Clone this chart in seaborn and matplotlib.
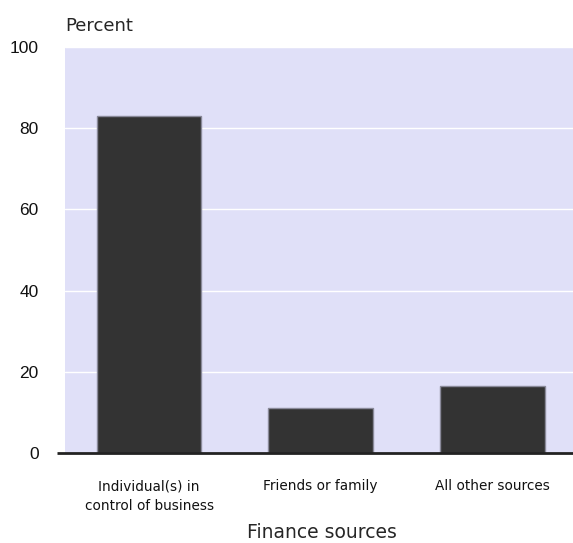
import pandas as pd
import seaborn as sns
import matplotlib.pyplot as plt

# finance sources and share of businesses (percent)
sources = ["Individual(s) in\ncontrol of business", "Friends or family", "All other sources"]
percent = [83.0, 11.0, 16.6]
yticks = [0, 20, 40, 60, 80, 100]

df = pd.DataFrame({"Source": sources, "Percent": percent})

sns.set_style("white")
plt.rcParams["font.family"] = ["Liberation Sans", "DejaVu Sans"]

fig = plt.figure(figsize=(5.73, 5.43), dpi=100)
ax = fig.add_axes([0.1134, 0.1657, 0.8866, 0.7477])
ax.set_facecolor("#e0e0f8")

sns.barplot(data=df, x="Source", y="Percent", color="#333333",
            edgecolor="#8a8a9a", linewidth=1.0, width=0.61, saturation=1, ax=ax)

ax.set_ylim(0, 100)
ax.set_xlim(-0.49, 2.47)
ax.set_yticks(yticks)
ax.yaxis.grid(True, color="white", linewidth=1.0)
ax.set_axisbelow(True)
for s in ["top", "right", "left", "bottom"]:
    ax.spines[s].set_visible(False)
# baseline sticks out a little to the left of the plot area
ax.plot([-0.016, 1], [0, 0], transform=ax.transAxes, color="#222222",
        linewidth=2, clip_on=False, solid_capstyle="butt")
ax.tick_params(axis="y", length=0, labelsize=12.5, pad=19, labelcolor="#111111")
ax.tick_params(axis="x", length=0, pad=19)
for lbl in ax.get_xticklabels():
    lbl.set_family("DejaVu Sans")
    lbl.set_fontsize(9.8)
    lbl.set_linespacing(1.55)
    lbl.set_verticalalignment("top")
    lbl.set_color("#111111")

ax.set_xlabel("")
ax.set_ylabel("")
fig.text(0.562, 1 - 533 / 543, "Finance sources", fontsize=13.5,
         family="DejaVu Sans", ha="center", va="center")
fig.text(0.1134, 0.952, "Percent", fontsize=13, family="DejaVu Sans",
         ha="left", va="center")

fig.savefig("out.png", dpi=100)
